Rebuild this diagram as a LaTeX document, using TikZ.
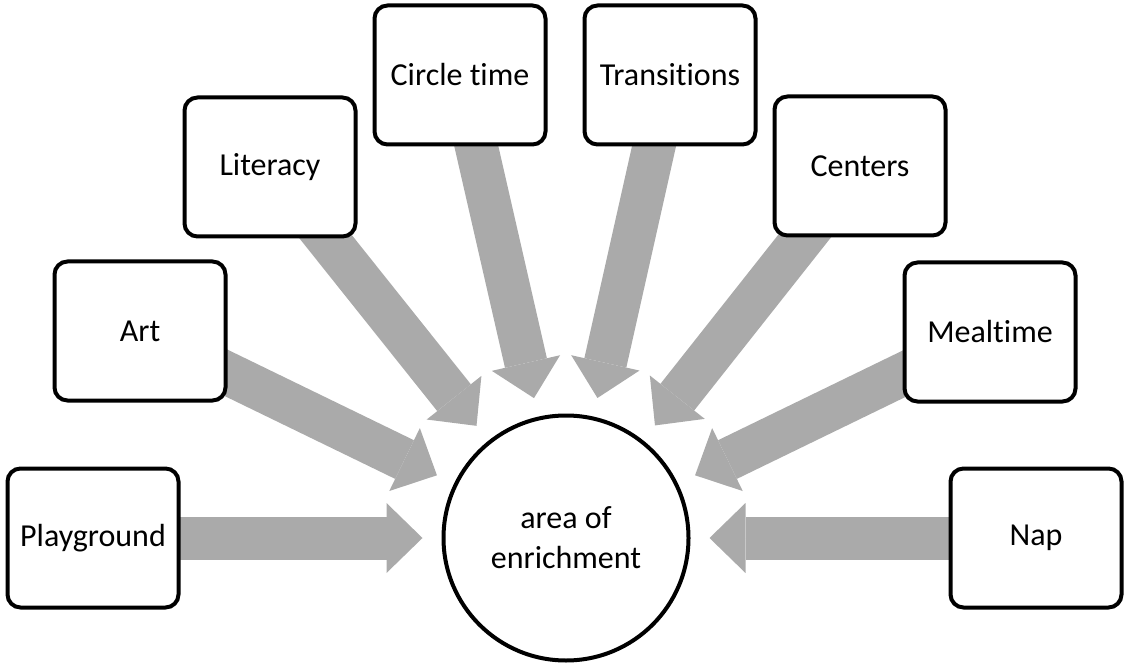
\documentclass[tikz,border=0pt]{standalone}
\usepackage{fontspec}
\setmainfont[Ligatures=NoCommon]{Carlito}
\usepackage{xcolor}
\usepackage{tikz}
\usetikzlibrary{arrows.meta,backgrounds}
\definecolor{arrowgray}{RGB}{170,170,170}

\begin{document}
\begin{tikzpicture}[x=1pt,y=1pt,
  activity/.style={draw,fill=white,line width=4pt,rounded corners=13pt,
    minimum width=171pt,minimum height=139pt,font=\fontsize{32}{38}\selectfont},
  hub/.style={draw,fill=white,circle,line width=4pt,minimum size=245pt,
    align=center,font=\fontsize{32}{40}\selectfont},
  feed/.style={draw=arrowgray,line width=43pt,shorten >=19pt,
    -{Triangle[width=70pt,length=36pt,line width=0pt]},fill=arrowgray}]
\useasboundingbox (0,0) rectangle (1124,665);
\node[hub] (area) at (566,127) {area of\\enrichment};
\node[activity] (play) at (93,127) {Playground};
\node[activity] (art) at (140,334) {Art};
\node[activity] (lit) at (270,498) {Literacy};
\node[activity] (ctime) at (460,590) {Circle time};
\node[activity] (trans) at (670,590) {Transitions};
\node[activity] (cent) at (860,499) {Centers};
\node[activity] (meal) at (990,333) {Mealtime};
\node[activity] (nap) at (1036,127) {Nap};
\begin{scope}[on background layer]
\draw[feed] (play.center) -- (area);
\draw[feed] (art.center) -- (area);
\draw[feed] (lit.center) -- (area);
\draw[feed] (ctime.center) -- (area);
\draw[feed] (trans.center) -- (area);
\draw[feed] (cent.center) -- (area);
\draw[feed] (meal.center) -- (area);
\draw[feed] (nap.center) -- (area);
\end{scope}
\end{tikzpicture}
\end{document}
